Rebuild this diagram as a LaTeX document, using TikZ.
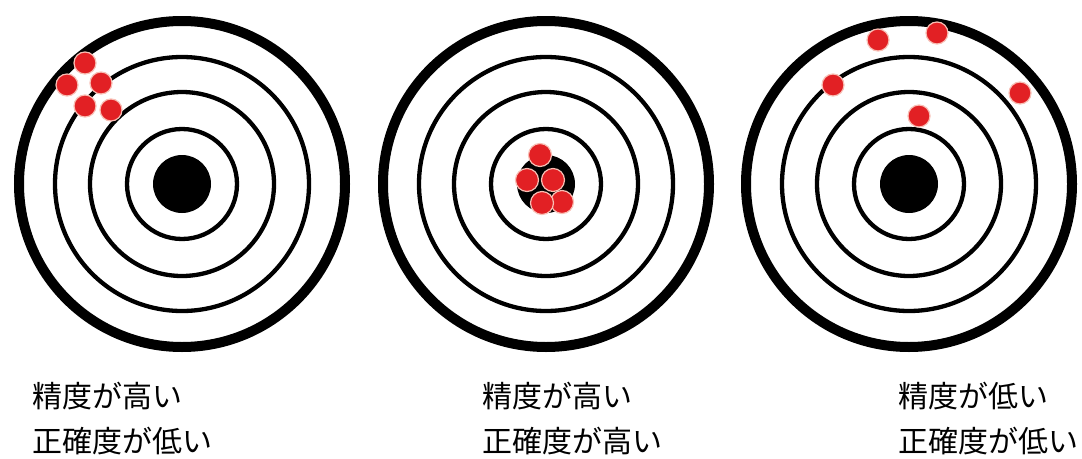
\documentclass[tikz,border=0pt]{standalone}
\usepackage{fontspec}
\newfontfamily\jp{Noto Sans CJK JP}
\definecolor{shot}{RGB}{226,32,36}
\definecolor{halo}{RGB}{248,190,180}
\tikzset{
  outerring/.style={draw=black,line width=10pt},
  ring/.style={draw=black,line width=4.3pt},
  bull/.style={fill=black},
  hit/.style={fill=shot,draw=halo,line width=1.2pt},
  caption/.style={anchor=west,inner sep=0pt,font=\jp\fontsize{30}{30}\selectfont}
}
\newcommand{\target}[2]{%
  \draw[outerring] (#1,#2) circle[radius=163];
  \draw[ring] (#1,#2) circle[radius=127];
  \draw[ring] (#1,#2) circle[radius=92];
  \draw[ring] (#1,#2) circle[radius=55];
  \fill[bull] (#1,#2) circle[radius=29];
}
\begin{document}
\begin{tikzpicture}[x=1pt,y=-1pt]
\useasboundingbox[fill=white] (0,0) rectangle (1082,458);
\target{182}{184}
\target{546}{184}
\target{909}{184}
% target 1 hits
\foreach \p in {(85,63),(67,85),(101,83),(85,106),(111,110)}
  \filldraw[hit] \p circle[radius=11];
% target 2 hits
\foreach \p in {(540,155),(527,180),(553,180),(562,202),(542,203)}
  \filldraw[hit] \p circle[radius=11.5];
% target 3 hits
\foreach \p in {(878,40),(937,33),(833,85),(1020,93),(919,116)}
  \filldraw[hit] \p circle[radius=11];
% captions
\node[caption] (a1) at (32,396) {精度が高い};
\node[caption] (a2) at (32,441) {正確度が低い};
\node[caption] (b1) at (482,396) {精度が高い};
\node[caption] (b2) at (482,441) {正確度が高い};
\node[caption] (c1) at (898,396) {精度が低い};
\node[caption] (c2) at (898,441) {正確度が低い};
\end{tikzpicture}
\end{document}
